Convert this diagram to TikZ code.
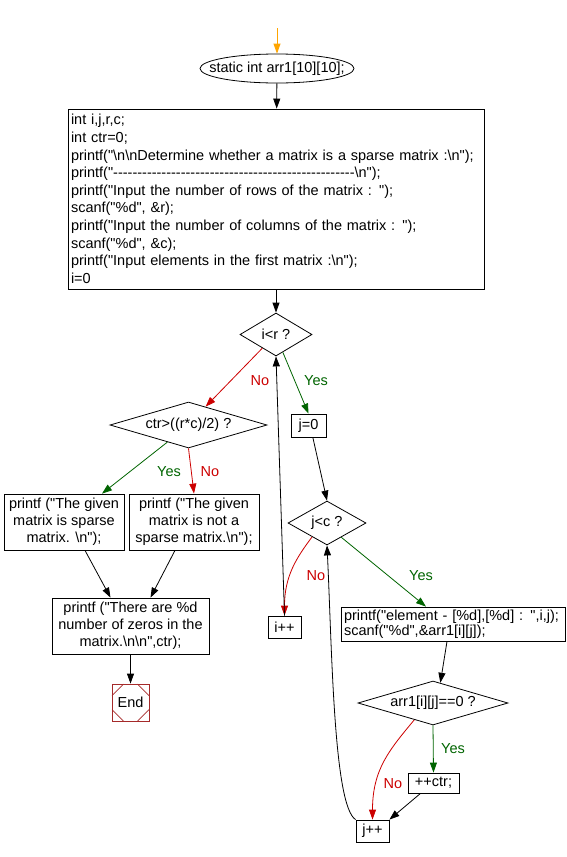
\documentclass[tikz,border=0pt]{standalone}
\usepackage{fontspec}
\setmainfont{Liberation Sans}[Ligatures=TeXOff]
\usetikzlibrary{shapes.geometric,arrows.meta}
\definecolor{yesgreen}{RGB}{0,100,0}
\definecolor{nored}{RGB}{204,0,0}
\definecolor{endred}{RGB}{165,42,42}
\definecolor{startorange}{RGB}{255,165,0}
\newcommand{\bsn}{\textbackslash n}
\begin{document}
\begin{tikzpicture}[x=1pt, y=-1pt,
  font=\fontsize{14.5}{17}\selectfont,
  >={Triangle[length=10pt,width=7pt]},
  line width=0.8pt,
  box/.style={draw, rectangle, inner sep=2pt, align=center},
  codebox/.style={draw, rectangle, inner xsep=3pt, inner ysep=2pt, align=left},
  decide/.style={draw, diamond, inner sep=0pt},
  flow/.style={->},
  yes/.style={->, yesgreen},
  no/.style={->, nored},
  yeslbl/.style={text=yesgreen, inner sep=1pt},
  nolbl/.style={text=nored, inner sep=1pt}]
  \useasboundingbox (0,0) rectangle (566,857);

  \coordinate (entry) at (277,28);
  \node[draw, ellipse, minimum width=154pt, minimum height=29pt, inner sep=0pt,
    label=center:{static int arr1[10][10];}] (st) at (277,68.5) {};
  \node[codebox, text width=410pt, minimum height=180pt,
    font=\fontsize{14.5}{17.6}\selectfont] (init) at (276,199) {int i,j,r,c;\\
int ctr=0;\\
printf("\bsn\bsn Determine whether a matrix is a sparse matrix :\bsn");\\
printf("--------------------------------------------------\bsn");\\
printf("Input the number of rows of the matrix : ");\\
scanf("\%d", \&r);\\
printf("Input the number of columns of the matrix : ");\\
scanf("\%d", \&c);\\
printf("Input elements in the first matrix :\bsn");\\
i=0};

  \node[decide, minimum width=72pt, minimum height=43pt, label=center:{i<r ?}] (ci) at (276,334.5) {};
  \node[decide, minimum width=157pt, minimum height=46pt, label=center:{ctr>((r*c)/2) ?}] (cs) at (188.5,425) {};
  \node[box, minimum width=35pt, minimum height=23pt] (jz) at (308.5,425.5) {j=0};
  \node[box, minimum width=120pt, minimum height=56pt] (n1) at (64,522) {printf ("The given\\matrix is sparse\\matrix. \bsn");};
  \node[box, minimum width=130pt, minimum height=56pt] (n2) at (194,522) {printf ("The given\\matrix is not a\\sparse matrix.\bsn");};
  \node[box, minimum width=157pt, minimum height=56pt] (n3) at (130.5,626) {printf ("There are \%d\\number of zeros in the\\matrix.\bsn\bsn",ctr);};
  \node[draw=endred, minimum size=37pt, inner sep=0pt] (stop) at (130.5,702.5) {End};
  \foreach \sx/\sy in {1/1,1/-1,-1/1,-1/-1}
    \draw[endred, line width=0.7pt] (stop.center) ++(18.5*\sx,7*\sy) -- ++(-11.5*\sx,11.5*\sy);

  \node[decide, minimum width=78pt, minimum height=44pt, label=center:{j<c ?}] (cj) at (327,523) {};
  \node[box, minimum width=33pt, minimum height=22pt] (ii) at (284.5,627) {i++};
  \node[codebox, text width=218pt, minimum height=34pt,
    font=\fontsize{14.5}{15}\selectfont] (pr) at (453,624) {printf("element - [\%d],[\%d] : ",i,j);\\scanf("\%d",\&arr1[i][j]);};
  \node[decide, minimum width=150pt, minimum height=44pt, label=center:{arr1[i][j]==0 ?}] (cz) at (433,703) {};
  \node[box, minimum width=51pt, minimum height=20pt] (ct) at (433.5,783) {++ctr;};
  \node[box, minimum width=33pt, minimum height=22pt] (jp) at (372.5,831) {j++};

  \node[nolbl] (lno1) at (260,381) {No};
  \node[yeslbl] (lyes1) at (316,381) {Yes};
  \node[yeslbl] (lyes2) at (169,472) {Yes};
  \node[nolbl] (lno2) at (210,472) {No};
  \node[nolbl] (lno3) at (316,576) {No};
  \node[yeslbl] (lyes3) at (421,576) {Yes};
  \node[yeslbl] (lyes4) at (453,749) {Yes};
  \node[nolbl] (lno4) at (393,784) {No};

  \draw[->, startorange] (entry) -- (st);
  \draw[flow] (st) -- (init);
  \draw[flow] (init) -- (ci);
  \draw[no] (ci.-135) -- (cs.47);
  \draw[yes] (ci.-69) -- (jz.north);
  \draw[yes] (cs.-141) -- ([xshift=38pt]n1.north);
  \draw[no] (cs.south) -- (n2.north);
  \draw[flow] ([xshift=21pt]n1.south) -- ([xshift=-20pt]n3.north);
  \draw[flow] ([xshift=-19pt]n2.south) -- ([xshift=20pt]n3.north);
  \draw[flow] (n3) -- (stop);
  \draw[flow] (jz.-70) -- (cj.north);
  \draw[no] (cj.-137) .. controls +(-15,20) and +(0,-40) .. (ii.north);
  \draw[yes] (cj.-45) -- ([xshift=-27pt]pr.north);
  \draw[flow] (ii.north) -- (ci.south);
  \draw[flow] ([xshift=-6pt]pr.south) -- (cz.70);
  \draw[yes] (cz.south) -- (ct.north);
  \draw[no] (cz.-138) .. controls +(-25,30) and +(0,-50) .. (jp.north);
  \draw[flow] ([xshift=-13pt]ct.south) -- (jp.north east);
  \draw[flow] (jp.north west) .. controls +(-22,-14) and +(5,105) .. (cj.south);
\end{tikzpicture}
\end{document}
